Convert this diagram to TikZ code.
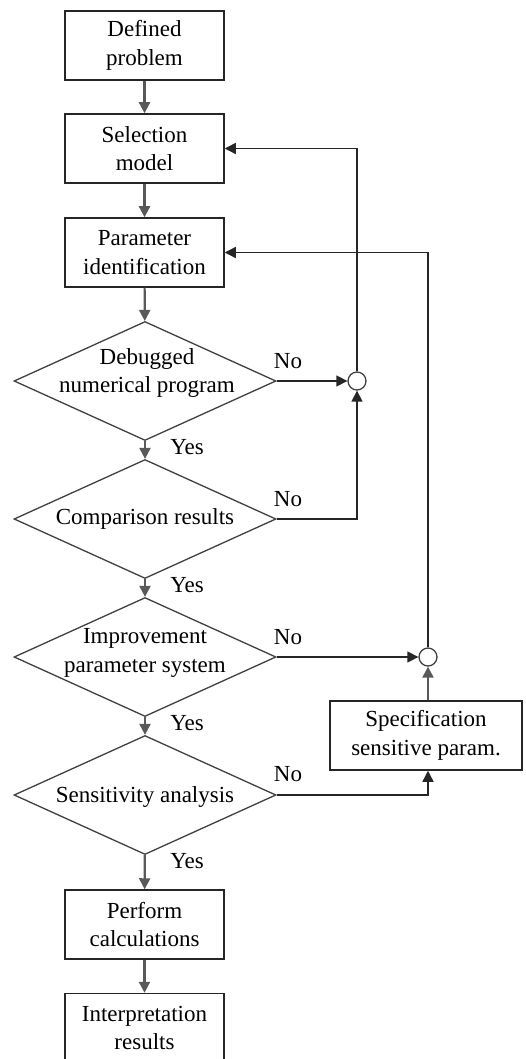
\documentclass[tikz,border=0pt]{standalone}
\usepackage{fontspec}
\setmainfont{Liberation Serif}
\usetikzlibrary{shapes.geometric,arrows.meta}
\begin{document}
\begin{tikzpicture}[x=1pt,y=-1pt,
  every node/.style={font=\fontsize{23}{28.5}\selectfont},
  procbox/.style={draw=black!85, line width=1.5pt, minimum width=159pt, minimum height=69pt, inner sep=0pt, align=center, fill=white},
  decision/.style={draw=black!75, line width=1.3pt, diamond, minimum width=262pt, minimum height=119pt, inner sep=0pt, aspect=2.2},
  dtext/.style={align=center, inner sep=0pt},
  junction/.style={circle, draw=black!75, line width=1.3pt, minimum size=18pt, inner sep=0pt, fill=white},
  flow/.style={draw=black!65, line width=2.2pt, -{Triangle[length=11pt,width=11pt]}},
  link/.style={draw=black!85, line width=1.4pt, -{Triangle[length=11pt,width=11pt]}},
  lbl/.style={inner sep=0pt}
]
\clip (0,0) rectangle (525,1059);
\fill[white] (0,0) rectangle (525,1059);

% process boxes
\node[procbox] (b1) at (144.5,45.5) {Defined\\problem};
\node[procbox] (b2) at (144.5,148.5) {Selection\\model};
\node[procbox] (b3) at (144.5,252.5) {Parameter\\identification};
\node[procbox] (b4) at (144.5,924.5) {Perform\\calculations};
\node[procbox] (b5) at (144.5,1028) {Interpretation\\results};
\node[procbox, minimum width=192pt] (spec) at (426,735.5) {Specification\\sensitive param.};

% decisions
\node[decision] (d1) at (145,381) {};
\node[decision] (d2) at (145,519) {};
\node[decision] (d3) at (145,657) {};
\node[decision] (d4) at (145,795) {};
\node[dtext] (t1) at (147,373) {Debugged\\numerical program};
\node[dtext] (t2) at (145,519) {Comparison results};
\node[dtext] (t3) at (145,653) {Improvement\\parameter system};
\node[dtext] (t4) at (145,797) {Sensitivity analysis};

% junctions
\node[junction] (j1) at (357,381) {};
\node[junction] (j2) at (428,657) {};
\coordinate (specin) at (j2 |- spec.south);
\coordinate (specout) at (j2 |- spec.north);

% main flow
\draw[flow] (b1) -- (b2);
\draw[flow] (b2) -- (b3);
\draw[flow] (b3) -- (d1);
\draw[flow] (d1) -- (d2);
\draw[flow] (d2) -- (d3);
\draw[flow] (d3) -- (d4);
\draw[flow] (d4) -- (b4);
\draw[flow] (b4) -- (b5);

% feedback
\draw[link] (d1.east) -- (j1.west);
\draw[link] (d2.east) -| (j1.south);
\draw[link] (j1.north) |- (b2.east);
\draw[link] (d3.east) -- (j2.west);
\draw[link] (d4.east) -| (specin);
\draw[flow] (specout) -- (j2.south);
\draw[link] (j2.north) |- (b3.east);

% labels
\node[lbl] (n1) at (288,361) {No};
\node[lbl] (n2) at (288,499) {No};
\node[lbl] (n3) at (288,637) {No};
\node[lbl] (n4) at (288,774) {No};
\node[lbl] (y1) at (187,447) {Yes};
\node[lbl] (y2) at (187,585) {Yes};
\node[lbl] (y3) at (187,723) {Yes};
\node[lbl] (y4) at (187,861) {Yes};
\end{tikzpicture}
\end{document}
